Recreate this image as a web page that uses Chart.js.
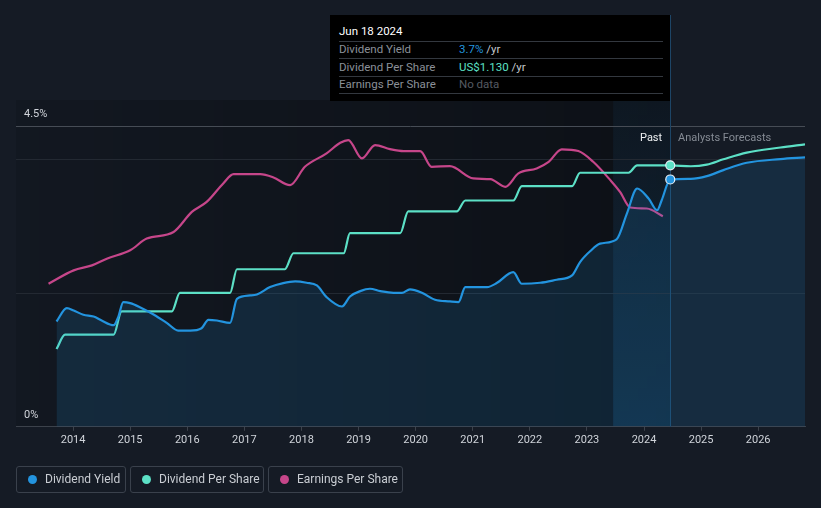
<!DOCTYPE html>
<html>
<head>
<meta charset="utf-8">
<script src="https://cdn.jsdelivr.net/npm/chart.js@4.4.1/dist/chart.umd.min.js"></script>
<style>
  html, body { margin:0; padding:0; background:#151b25; }
  #wrap { position:relative; width:821px; height:508px; font-family:Roboto, "Open Sans", sans-serif; }
  canvas { position:absolute; left:0; top:0; }
  .tip { position:absolute; left:330px; top:15px; width:340px; height:86px; background:#000; }
  .tip .title { position:absolute; left:9px; top:9px; color:#fff; font-size:11.5px; font-weight:400; }
  .tip .sep { position:absolute; left:9px; width:324px; height:1px; background:#33383f; }
  .tip .row { position:absolute; left:9px; font-size:11.5px; color:#8b9098; line-height:14px; }
  .tip .val { position:absolute; left:120px; white-space:nowrap; }
  .lg { position:absolute; top:466px; height:27px; border:1px solid #3a414c; border-radius:3px; box-sizing:border-box; color:#c9cdd3; font-size:12px; line-height:25px; white-space:nowrap; }
  .lg .dot { position:absolute; top:8px; width:9px; height:9px; border-radius:50%; }
  .lg .tx { position:absolute; top:0; }
  .lbl { position:absolute; font-size:11px; white-space:nowrap; }
</style>
</head>
<body>
<div id="wrap">
  <canvas id="c" width="821" height="508"></canvas>
  <div class="lbl" style="left:640px; top:131px; color:#eef0f2;">Past</div>
  <div class="lbl" style="left:678px; top:131px; color:#858b94;">Analysts Forecasts</div>
  <div class="tip">
    <div class="title">Jun 18 2024</div>
    <div class="sep" style="top:26px"></div>
    <div class="row" style="top:27px">Dividend Yield<span class="val"><span style="color:#2394df">3.7%</span><span style="color:#c4c8ce"> /yr</span></span></div>
    <div class="sep" style="top:43px"></div>
    <div class="row" style="top:45px">Dividend Per Share<span class="val"><span style="color:#5ce0c6">US$1.130</span><span style="color:#c4c8ce"> /yr</span></span></div>
    <div class="sep" style="top:61px"></div>
    <div class="row" style="top:62px">Earnings Per Share<span class="val" style="color:#555a62">No data</span></div>
    <div class="sep" style="top:78px"></div>
  </div>
  <div class="lg" style="left:16px; width:110px;"><span class="dot" style="left:11px; background:#2394df"></span><span class="tx" style="left:28px">Dividend Yield</span></div>
  <div class="lg" style="left:130px; width:134px;"><span class="dot" style="left:11px; background:#5ce0c6"></span><span class="tx" style="left:28px">Dividend Per Share</span></div>
  <div class="lg" style="left:268px; width:135px;"><span class="dot" style="left:11px; background:#c6468a"></span><span class="tx" style="left:28px">Earnings Per Share</span></div>
</div>
<script>
// ---- data (decimal years) ----
const yieldDates  = [2013.71,2013.89,2014.01,2014.18,2014.36,2014.50,2014.71,2014.79,2014.88,2015.00,2015.17,2015.41,2015.64,2015.84,2016.05,2016.25,2016.37,2016.52,2016.75,2016.87,2017.10,2017.22,2017.45,2017.68,2017.89,2018.09,2018.27,2018.44,2018.71,2018.85,2019.03,2019.20,2019.38,2019.61,2019.76,2019.90,2020.11,2020.34,2020.60,2020.75,2020.87,2021.25,2021.42,2021.71,2021.86,2022.18,2022.47,2022.74,2022.88,2023.06,2023.23,2023.52,2023.70,2023.88,2024.08,2024.23,2024.31,2024.46,2024.82,2025.10,2025.39,2025.80,2026.39,2026.82];
const yieldValues = [1.575,1.775,1.74,1.676,1.65,1.59,1.52,1.64,1.865,1.85,1.79,1.68,1.555,1.44,1.44,1.475,1.60,1.59,1.555,1.915,1.965,1.98,2.09,2.15,2.175,2.155,2.115,1.94,1.80,1.95,2.03,2.065,2.03,2.005,2.005,2.055,2.005,1.90,1.875,1.865,2.09,2.09,2.15,2.315,2.14,2.155,2.20,2.265,2.465,2.63,2.74,2.805,3.19,3.565,3.415,3.24,3.39,3.70,3.71,3.75,3.84,3.95,4.005,4.03];

const dpsDates  = [2013.71,2013.86,2014.71,2014.85,2015.73,2015.87,2016.75,2016.87,2017.71,2017.86,2018.74,2018.85,2019.73,2019.87,2020.72,2020.87,2021.71,2021.86,2022.74,2022.88,2023.73,2023.88,2024.46,2024.82,2025.10,2025.39,2025.80,2026.39,2026.82];
const dpsValues = [0.336,0.398,0.398,0.499,0.499,0.579,0.579,0.681,0.681,0.750,0.750,0.837,0.837,0.931,0.931,0.978,0.978,1.040,1.040,1.098,1.098,1.130,1.130,1.126,1.133,1.156,1.185,1.207,1.221];

const epsDates  = [2013.57,2014.01,2014.33,2014.59,2015.00,2015.29,2015.76,2016.08,2016.34,2016.63,2016.81,2017.10,2017.28,2017.51,2017.80,2018.06,2018.44,2018.68,2018.82,2019.06,2019.29,2019.55,2019.79,2020.08,2020.28,2020.60,2021.01,2021.31,2021.57,2021.80,2022.12,2022.33,2022.56,2022.85,2023.11,2023.41,2023.58,2023.76,2024.05,2024.33];
const epsValues = [1.427,1.56,1.61,1.677,1.76,1.877,1.943,2.143,2.243,2.427,2.52,2.52,2.52,2.487,2.41,2.593,2.727,2.833,2.86,2.677,2.81,2.77,2.75,2.75,2.593,2.60,2.477,2.47,2.393,2.527,2.577,2.643,2.767,2.75,2.643,2.46,2.343,2.187,2.177,2.10];

const yearTicks = [2014,2015,2016,2017,2018,2019,2020,2021,2022,2023,2024,2025,2026];
const yTickValues = [0,2,4,4.5];
const nowDate = 2024.46;
const bandStart = 2023.46;

const zip = (xs, ys) => xs.map((x, i) => ({x, y: ys[i]}));

const bgPlugin = {
  id: 'bg',
  beforeDraw(chart) {
    const {ctx, chartArea} = chart;
    const xs = chart.scales.x;
    const xNow = xs.getPixelForValue(nowDate);
    const xBand = xs.getPixelForValue(bandStart);
    const top = 100, bottom = chartArea.bottom;
    ctx.save();
    const g = ctx.createLinearGradient(chartArea.left, 0, xNow, 0);
    g.addColorStop(0, 'rgba(0,0,0,0.10)');
    g.addColorStop(1, 'rgba(0,0,0,0.38)');
    ctx.fillStyle = g;
    ctx.fillRect(chartArea.left, top, xNow - chartArea.left, bottom - top);
    const g2 = ctx.createLinearGradient(0, top, 0, bottom);
    g2.addColorStop(0, 'rgba(35,130,200,0.06)');
    g2.addColorStop(1, 'rgba(35,130,200,0.20)');
    ctx.fillStyle = g2;
    ctx.fillRect(xBand, top, xNow - xBand, bottom - top);
    ctx.restore();
  },
  beforeDatasetsDraw(chart) {
    const {ctx, chartArea} = chart;
    const xNow = Math.round(chart.scales.x.getPixelForValue(nowDate)) + 0.5;
    ctx.save();
    ctx.strokeStyle = '#1d4566';
    ctx.lineWidth = 1;
    ctx.beginPath();
    ctx.moveTo(xNow, 15);
    ctx.lineTo(xNow, chartArea.bottom);
    ctx.stroke();
    ctx.restore();
  }
};

const nowIdx = (dates) => dates.indexOf(nowDate);

new Chart(document.getElementById('c'), {
  type: 'line',
  data: {
    datasets: [
      {
        label: 'Dividend Yield', data: zip(yieldDates, yieldValues), yAxisID: 'y',
        borderColor: '#2394df', borderWidth: 2.2, fill: 'origin',
        backgroundColor: 'rgba(35,148,223,0.15)',
        cubicInterpolationMode: 'monotone',
        pointRadius: (c) => c.dataIndex === nowIdx(yieldDates) ? 4.5 : 0,
        pointBackgroundColor: '#2394df', pointBorderColor: '#e8f0f8', pointBorderWidth: 1.2
      },
      {
        label: 'Dividend Per Share', data: zip(dpsDates, dpsValues), yAxisID: 'yDps',
        borderColor: '#5ce0c6', borderWidth: 2.2, fill: false,
        cubicInterpolationMode: 'monotone',
        pointRadius: (c) => c.dataIndex === nowIdx(dpsDates) ? 4.5 : 0,
        pointBackgroundColor: '#5ce0c6', pointBorderColor: '#e8f0f8', pointBorderWidth: 1.2
      },
      {
        label: 'Earnings Per Share', data: zip(epsDates, epsValues), yAxisID: 'yEps',
        borderColor: '#c6468a', borderWidth: 2.2, fill: false,
        cubicInterpolationMode: 'monotone', pointRadius: 0
      }
    ]
  },
  options: {
    responsive: false, animation: false,
    layout: { padding: { left: 16, right: 16, top: 126, bottom: 58 } },
    plugins: { legend: { display: false }, tooltip: { enabled: false } },
    scales: {
      x: {
        type: 'linear', min: 2013.0, max: 2026.82,
        afterBuildTicks: (s) => { s.ticks = yearTicks.map(v => ({value: v})); },
        ticks: { color: '#d0d4da', font: { family: 'Roboto', size: 11 }, padding: 3, maxRotation: 0, autoSkip: false, callback: (v) => String(v) },
        grid: { drawOnChartArea: false, drawTicks: true, tickLength: 4, color: '#3c424b' },
        border: { display: true, color: '#3c424b', width: 1 }
      },
      y: {
        min: 0, max: 4.5, position: 'left',
        afterBuildTicks: (s) => { s.ticks = yTickValues.map(v => ({value: v})); },
        afterFit: (s) => { s.width = 0; },
        ticks: { mirror: true, padding: 8, labelOffset: -12, color: '#d0d4da', font: { family: 'Roboto', size: 11 },
                 callback: (v) => (v === 0 || v === 4.5) ? v + '%' : '' },
        grid: { drawTicks: false, color: (c) => c.tick.value === 4.5 ? '#464c55' : (c.tick.value === 0 ? 'rgba(0,0,0,0)' : '#232932') },
        border: { display: false }
      },
      yDps: { display: false, min: 0, max: 1.3 },
      yEps: { display: false, min: 0, max: 3.0 }
    }
  },
  plugins: [bgPlugin]
});
</script>
</body>
</html>
